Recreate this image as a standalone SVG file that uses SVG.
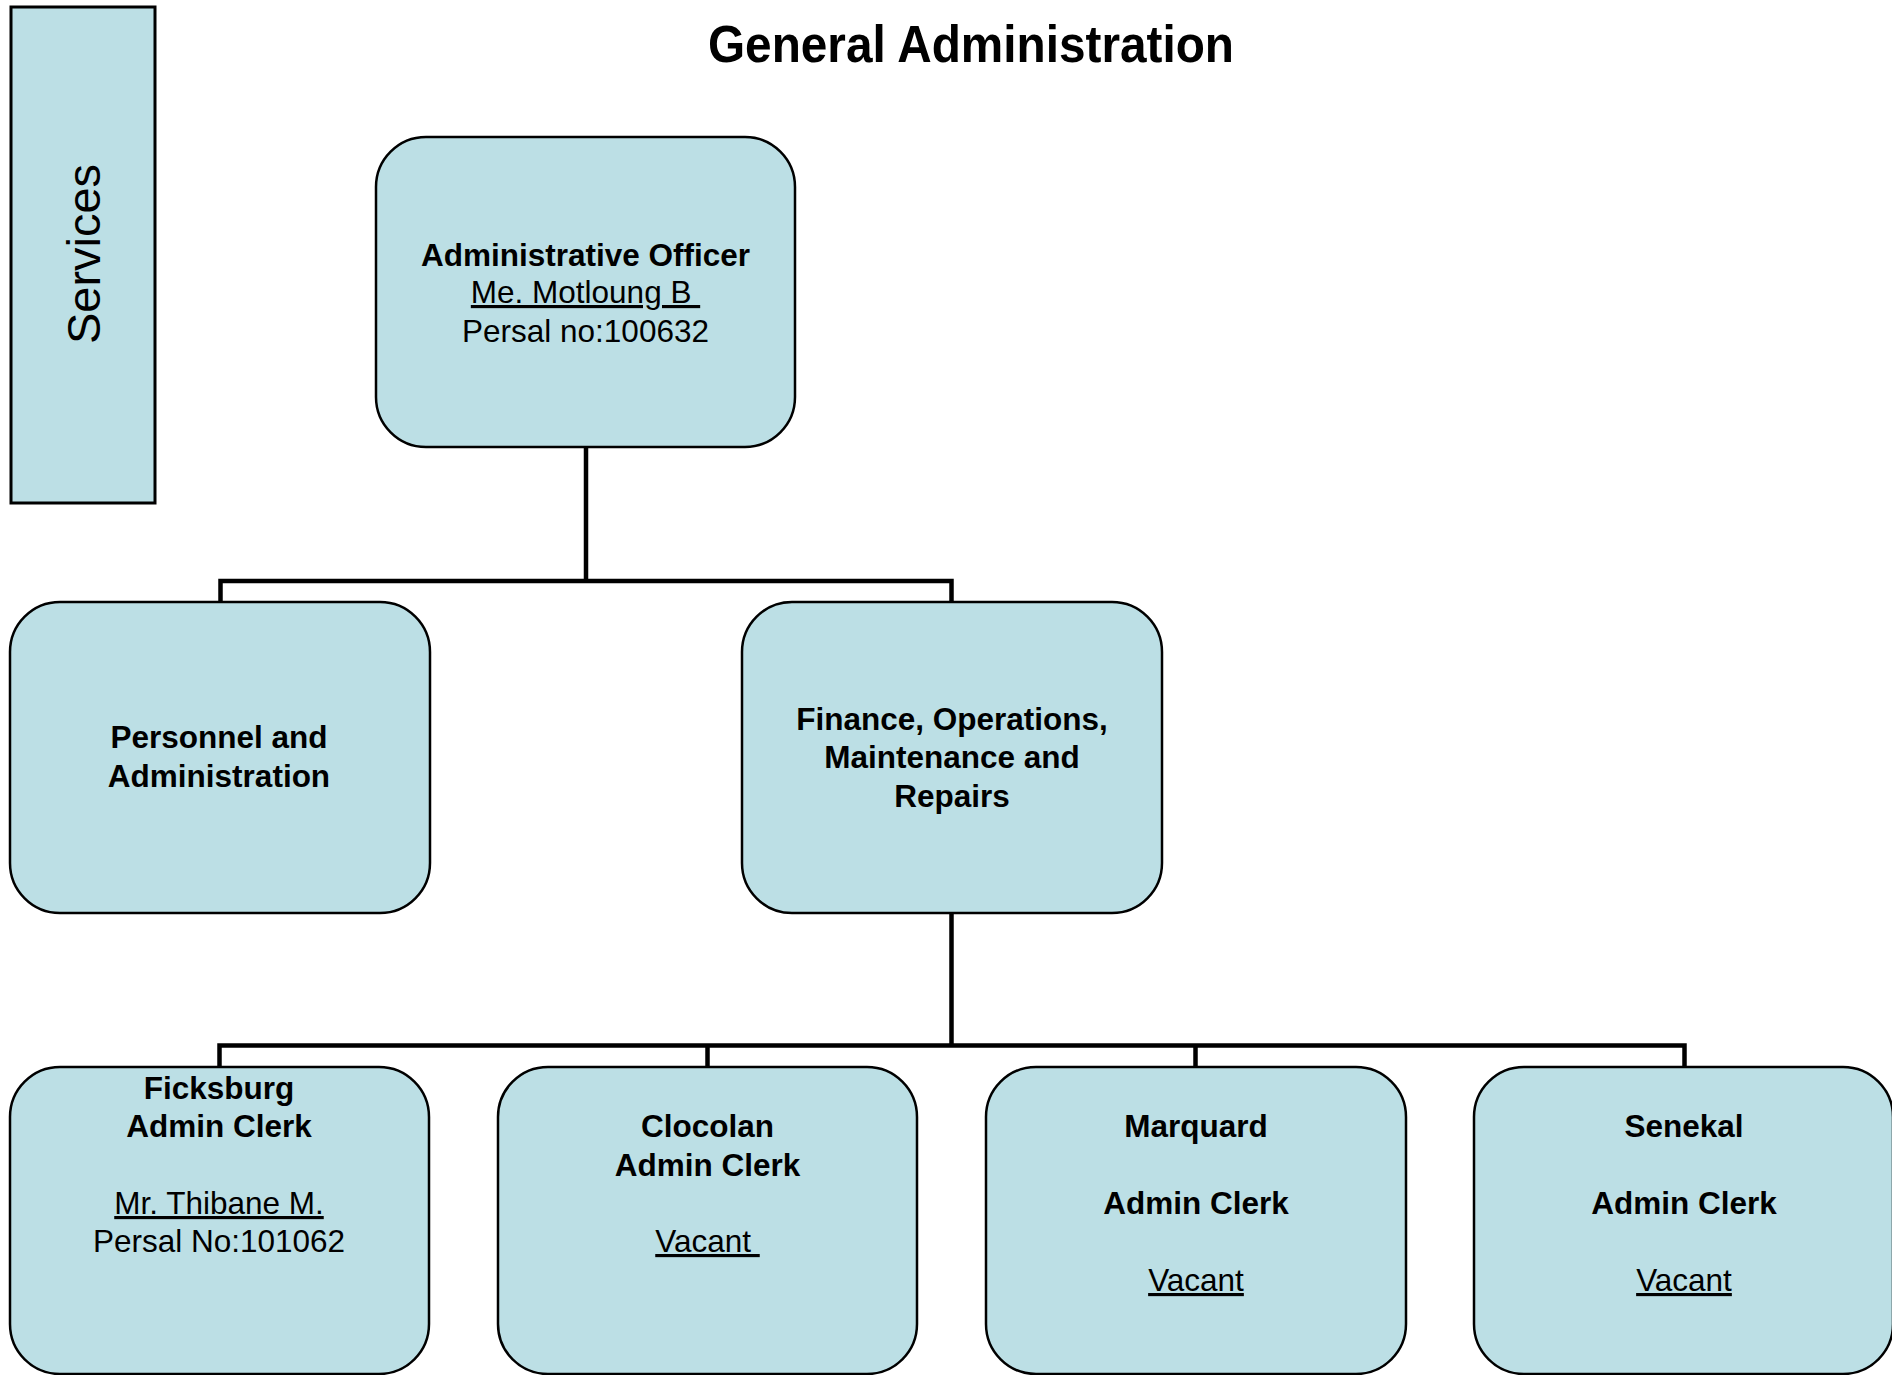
<svg xmlns="http://www.w3.org/2000/svg" width="1892" height="1375" viewBox="0 0 1892 1375">
<style>
.box{fill:#BCDFE5;stroke:#000;stroke-width:2.5}
.t{font-family:"Liberation Sans",Arial,sans-serif;font-size:31.5px;fill:#000;text-anchor:middle}
.b{font-weight:bold}
.u{text-decoration:underline}
.conn{fill:none;stroke:#000;stroke-width:4.5;stroke-linejoin:miter;stroke-linecap:square}
</style>
<rect width="1892" height="1375" fill="#fff"/>
<text id="title" class="t b" x="971" y="62" style="font-size:52px" textLength="526" lengthAdjust="spacingAndGlyphs">General Administration</text>
<g id="services">
<rect x="11" y="7" width="144" height="496" fill="#BCDFE5" stroke="#000" stroke-width="3"/>
<text class="t" style="font-size:47px" transform="translate(100,254) rotate(-90)">Services</text>
</g>
<g id="connectors">
<path class="conn" d="M586,447 V581 M220.5,602 V581 H951.5 V602"/>
<path class="conn" d="M951.5,913 V1045.5 M219.5,1067 V1045.5 H1684.5 V1067 M707.5,1045.5 V1067 M1195.5,1045.5 V1067"/>
</g>
<g id="admin-officer">
<rect class="box" x="376" y="137" width="419" height="310" rx="50" ry="50"/>
<text class="t b" x="585.5" y="266">Administrative Officer</text>
<text class="t u" x="585.5" y="303">Me. Motloung B&#160;</text>
<text class="t" x="585.5" y="342">Persal no:100632</text>
</g>
<g id="personnel">
<rect class="box" x="10" y="602" width="420" height="311" rx="50" ry="50"/>
<text class="t b" x="219" y="748">Personnel and</text>
<text class="t b" x="219" y="787">Administration</text>
</g>
<g id="finance">
<rect class="box" x="742" y="602" width="420" height="311" rx="50" ry="50"/>
<text class="t b" x="952" y="730">Finance, Operations,</text>
<text class="t b" x="952" y="768">Maintenance and</text>
<text class="t b" x="952" y="807">Repairs</text>
</g>
<g id="ficksburg">
<rect class="box" x="10" y="1067" width="419" height="307" rx="50" ry="50"/>
<text class="t b" x="219" y="1099">Ficksburg</text>
<text class="t b" x="219" y="1137">Admin Clerk</text>
<text class="t u" x="219" y="1214">Mr. Thibane M.</text>
<text class="t" x="219" y="1252">Persal No:101062</text>
</g>
<g id="clocolan">
<rect class="box" x="498" y="1067" width="419" height="307" rx="50" ry="50"/>
<text class="t b" x="707.5" y="1137">Clocolan</text>
<text class="t b" x="707.5" y="1176">Admin Clerk</text>
<text class="t u" x="707.5" y="1252">Vacant&#160;</text>
</g>
<g id="marquard">
<rect class="box" x="986" y="1067" width="420" height="307" rx="50" ry="50"/>
<text class="t b" x="1196" y="1137">Marquard</text>
<text class="t b" x="1196" y="1214">Admin Clerk</text>
<text class="t u" x="1196" y="1291">Vacant</text>
</g>
<g id="senekal">
<rect class="box" x="1474" y="1067" width="419" height="307" rx="50" ry="50"/>
<text class="t b" x="1684" y="1137">Senekal</text>
<text class="t b" x="1684" y="1214">Admin Clerk</text>
<text class="t u" x="1684" y="1291">Vacant</text>
</g>
</svg>
